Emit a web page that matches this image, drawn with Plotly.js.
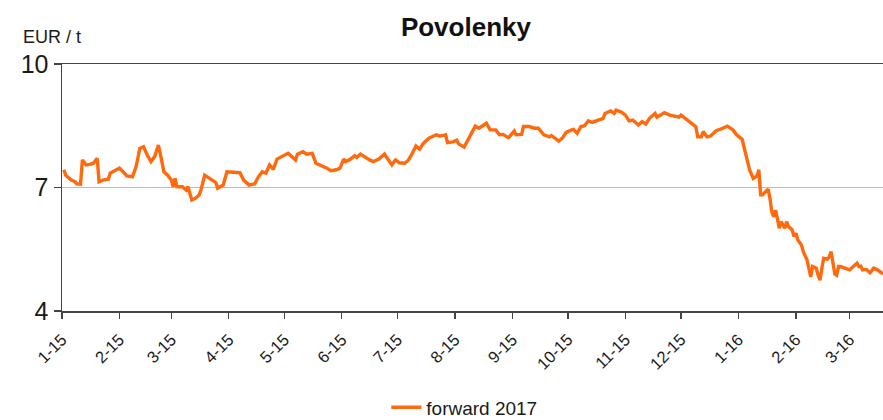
<!DOCTYPE html>
<html>
<head>
<meta charset="utf-8">
<script src="https://cdn.plot.ly/plotly-3.0.1.min.js"></script>
<style>html,body{margin:0;padding:0;background:#fff;}#chart{width:883px;height:420px;}</style>
</head>
<body>
<div id="chart"></div>
<script>
const seriesName = "forward 2017";
const dates = [
"2015-01-02","2015-01-03","2015-01-06","2015-01-08","2015-01-09","2015-01-11","2015-01-12","2015-01-14","2015-01-16","2015-01-18",
"2015-01-20","2015-01-21","2015-01-23","2015-01-26","2015-01-27","2015-01-30","2015-02-01","2015-02-03","2015-02-05","2015-02-08",
"2015-02-10","2015-02-12","2015-02-14","2015-02-16","2015-02-18","2015-02-20","2015-02-22","2015-02-23","2015-02-25","2015-02-27",
"2015-03-01","2015-03-02","2015-03-03","2015-03-04","2015-03-07","2015-03-09","2015-03-10","2015-03-12","2015-03-14","2015-03-16",
"2015-03-17","2015-03-19","2015-03-22","2015-03-25","2015-03-26","2015-03-29","2015-03-31","2015-04-04","2015-04-07","2015-04-09",
"2015-04-12","2015-04-15","2015-04-17","2015-04-19","2015-04-21","2015-04-23","2015-04-25","2015-04-27","2015-04-30","2015-05-03",
"2015-05-05","2015-05-07","2015-05-08","2015-05-11","2015-05-13","2015-05-16","2015-05-18","2015-05-22","2015-05-24","2015-05-26",
"2015-05-29","2015-05-31","2015-06-02","2015-06-03","2015-06-05","2015-06-08","2015-06-09","2015-06-11","2015-06-13","2015-06-16",
"2015-06-18","2015-06-21","2015-06-24","2015-06-26","2015-06-28","2015-06-30","2015-07-02","2015-07-05","2015-07-07","2015-07-09",
"2015-07-11","2015-07-13","2015-07-15","2015-07-18","2015-07-22","2015-07-24","2015-07-27","2015-07-28","2015-07-31","2015-08-02",
"2015-08-03","2015-08-06","2015-08-07","2015-08-10","2015-08-12","2015-08-14","2015-08-16","2015-08-18","2015-08-20","2015-08-23",
"2015-08-25","2015-08-27","2015-08-29","2015-08-30","2015-09-02","2015-09-03","2015-09-06","2015-09-07","2015-09-10","2015-09-13",
"2015-09-15","2015-09-18","2015-09-21","2015-09-22","2015-09-24","2015-09-26","2015-09-28","2015-09-30","2015-10-03","2015-10-04",
"2015-10-06","2015-10-08","2015-10-10","2015-10-12","2015-10-14","2015-10-17","2015-10-20","2015-10-21","2015-10-24","2015-10-26",
"2015-10-27","2015-10-30","2015-11-01","2015-11-03","2015-11-05","2015-11-08","2015-11-10","2015-11-12","2015-11-14","2015-11-17",
"2015-11-18","2015-11-20","2015-11-22","2015-11-25","2015-11-27","2015-11-30","2015-12-01","2015-12-04","2015-12-06","2015-12-07",
"2015-12-09","2015-12-10","2015-12-12","2015-12-13","2015-12-15","2015-12-17","2015-12-20","2015-12-22","2015-12-24","2015-12-26",
"2015-12-29","2015-12-31","2016-01-03","2016-01-04","2016-01-06","2016-01-07","2016-01-09","2016-01-11","2016-01-12","2016-01-13",
"2016-01-14","2016-01-15","2016-01-17","2016-01-18","2016-01-19","2016-01-20","2016-01-21","2016-01-22","2016-01-23","2016-01-24",
"2016-01-26","2016-01-27","2016-01-28","2016-01-30","2016-01-31","2016-02-01","2016-02-02","2016-02-04","2016-02-05","2016-02-07",
"2016-02-08","2016-02-09","2016-02-10","2016-02-12","2016-02-13","2016-02-14","2016-02-15","2016-02-16","2016-02-18","2016-02-19",
"2016-02-20","2016-02-21","2016-02-22","2016-02-23","2016-02-24","2016-02-25","2016-02-28","2016-03-01","2016-03-03","2016-03-05",
"2016-03-06","2016-03-07","2016-03-08","2016-03-10","2016-03-12","2016-03-14","2016-03-16","2016-03-18","2016-03-19"
];
const prices = [
7.43,7.30,7.18,7.14,7.09,7.08,7.67,7.55,7.56,7.59,
7.71,7.14,7.18,7.20,7.35,7.43,7.47,7.38,7.28,7.26,
7.51,7.95,7.99,7.79,7.63,7.75,8.03,7.83,7.38,7.30,
7.18,7.02,7.22,7.02,7.02,6.94,7.02,6.70,6.74,6.82,
6.94,7.30,7.22,7.12,6.98,7.06,7.38,7.38,7.36,7.18,
7.06,7.09,7.26,7.38,7.35,7.55,7.44,7.69,7.77,7.83,
7.75,7.67,7.81,7.87,7.81,7.83,7.59,7.52,7.47,7.41,
7.43,7.47,7.69,7.63,7.67,7.77,7.73,7.81,7.75,7.67,
7.63,7.69,7.81,7.67,7.55,7.67,7.60,7.59,7.67,7.83,
8.01,7.93,8.07,8.20,8.28,8.25,8.28,8.09,8.11,8.15,
8.06,7.98,8.07,8.32,8.49,8.44,8.49,8.56,8.40,8.40,
8.28,8.29,8.23,8.21,8.37,8.28,8.29,8.48,8.48,8.44,
8.44,8.28,8.23,8.26,8.20,8.13,8.20,8.34,8.40,8.41,
8.32,8.48,8.50,8.62,8.58,8.64,8.68,8.80,8.86,8.80,
8.88,8.83,8.76,8.62,8.64,8.52,8.60,8.54,8.68,8.80,
8.71,8.76,8.82,8.76,8.74,8.71,8.76,8.66,8.57,8.56,
8.48,8.23,8.23,8.36,8.23,8.25,8.38,8.41,8.46,8.49,
8.40,8.28,8.17,7.99,7.67,7.43,7.22,7.28,7.43,6.82,
6.82,6.87,6.96,6.74,6.41,6.29,6.45,6.25,6.01,6.17,
6.01,6.17,6.05,5.97,5.81,5.89,5.73,5.60,5.44,5.24,
5.04,4.83,5.08,5.04,4.87,4.75,5.04,5.28,5.26,5.32,
5.44,5.20,4.90,4.87,5.08,5.08,5.04,5.00,5.08,5.16,
5.08,5.09,5.00,5.01,4.93,5.04,5.00,4.93,4.90
];
const yTicks = [4, 7, 10];
const xRange = ["2015-01-01", "2016-03-19"];

const font = "Liberation Sans, Arial, sans-serif";
const trace = {
  x: dates, y: prices, type: "scatter", mode: "lines", name: seriesName,
  line: {color: "#ff6a0e", width: 3.4}
};
const layout = {
  width: 883, height: 420,
  margin: {l: 62, r: 0, t: 64, b: 109, autoexpand: false},
  paper_bgcolor: "#fff", plot_bgcolor: "#fff",
  font: {family: font, color: "#1a1a1a"},
  title: {text: "<b>Povolenky</b>", font: {family: font, size: 26, color: "#111"},
          xref: "paper", x: 0.492, xanchor: "center", yref: "container", y: 0.937, yanchor: "middle"},
  xaxis: {
    type: "date", range: xRange, tick0: "2015-01-01", dtick: "M1", tickformat: "%-m-%y",
    tickangle: -45, ticks: "outside", ticklen: 6, tickcolor: "#444", tickwidth: 1.3,
    showline: true, linecolor: "#444", linewidth: 1.5, mirror: true,
    showgrid: false, zeroline: false, automargin: false, ticklabelstandoff: 5,
    tickfont: {family: font, size: 16.5, color: "#1a1a1a"}
  },
  yaxis: {
    range: [4, 10], tickvals: yTicks, ticktext: yTicks.map(String),
    ticks: "outside", ticklen: 7, tickcolor: "#444", tickwidth: 1.3,
    showline: true, linecolor: "#444", linewidth: 1.5, automargin: false,
    showgrid: true, gridcolor: "#bdbdbd", gridwidth: 1, zeroline: false,
    tickfont: {family: font, size: 25, color: "#1a1a1a"}
  },
  showlegend: true,
  legend: {orientation: "h", x: 0.49, xanchor: "center", yref: "container", y: 0.03, yanchor: "middle",
           font: {family: font, size: 19, color: "#1a1a1a"}, bgcolor: "rgba(0,0,0,0)"},
  annotations: [{
    text: "EUR / t", xref: "paper", yref: "paper", x: -0.05, xanchor: "left",
    y: 1.11, yanchor: "middle", showarrow: false,
    font: {family: font, size: 18, color: "#1a1a1a"}
  }]
};
Plotly.newPlot("chart", [trace], layout, {staticPlot: true, displayModeBar: false});
</script>
</body>
</html>
